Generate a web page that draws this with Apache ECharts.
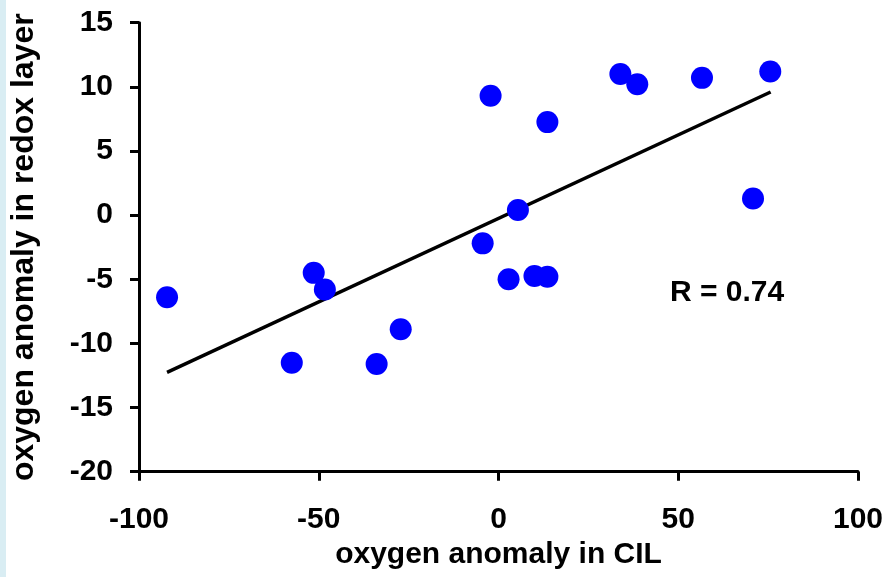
<!DOCTYPE html>
<html>
<head>
<meta charset="utf-8">
<script src="https://cdn.jsdelivr.net/npm/echarts@6/dist/echarts.min.js"></script>
<style>
html,body{margin:0;padding:0;background:#fff;}
#wrap{position:relative;width:887px;height:577px;}
#strip{position:absolute;left:0;top:0;width:6px;height:577px;background:#d9edf3;}
#chart{position:absolute;left:0;top:0;width:887px;height:577px;}
</style>
</head>
<body>
<div id="wrap"><div id="strip"></div><div id="chart"></div></div>
<script>
const xValues = [-92.2, -57.5, -51.4, -48.3, -33.9, -27.2, -4.4, -2.2, 2.8, 5.4, 10.0, 13.6, 13.6, 33.9, 38.6, 56.6, 75.6, 70.8];
const yValues = [-6.4, -11.5, -4.5, -5.8, -11.6, -8.9, -2.2, 9.3, -5.0, 0.4, -4.75, -4.8, 7.25, 11.0, 10.2, 10.7, 11.2, 1.3];
const trendX = [-92.2, 75.7];
const trendY = [-12.26, 9.6];
const xTicks = [-100, -50, 0, 50, 100];
const yTicks = [-20, -15, -10, -5, 0, 5, 10, 15];
const rLabel = 'R = 0.74';
const xTitle = 'oxygen anomaly in CIL';
const yTitle = 'oxygen anomaly in redox layer';

const points = xValues.map((x, i) => [x, yValues[i]]);
const trend = trendX.map((x, i) => [x, trendY[i]]);
const FONT = '"Liberation Sans", Arial, sans-serif';

const chart = echarts.init(document.getElementById('chart'), null, {renderer: 'canvas'});
chart.setOption({
  animation: false,
  backgroundColor: 'transparent',
  grid: {left: 138, right: 29, top: 22.7, bottom: 105.3, containLabel: false},
  xAxis: {
    type: 'value', min: xTicks[0], max: xTicks[xTicks.length - 1], interval: 50,
    name: xTitle, nameLocation: 'middle', nameGap: 68,
    nameTextStyle: {fontFamily: FONT, fontWeight: 'bold', fontSize: 30, color: '#000'},
    axisLine: {show: true, onZero: false, lineStyle: {color: '#000', width: 3}},
    axisTick: {show: true, inside: false, length: 9, lineStyle: {color: '#000', width: 3}},
    axisLabel: {fontFamily: FONT, fontWeight: 'bold', fontSize: 30, color: '#000', margin: 33},
    splitLine: {show: false}
  },
  yAxis: {
    type: 'value', min: yTicks[0], max: yTicks[yTicks.length - 1], interval: 5,
    name: yTitle, nameLocation: 'middle', nameGap: 99,
    nameTextStyle: {fontFamily: FONT, fontWeight: 'bold', fontSize: 32, color: '#000'},
    axisLine: {show: true, onZero: false, lineStyle: {color: '#000', width: 3}},
    axisTick: {show: true, inside: false, length: 9, lineStyle: {color: '#000', width: 3}},
    axisLabel: {fontFamily: FONT, fontWeight: 'bold', fontSize: 30, color: '#000', margin: 26},
    splitLine: {show: false}
  },
  series: [
    {
      type: 'line', data: trend, showSymbol: false, symbol: 'none',
      lineStyle: {color: '#000', width: 3.5}, z: 2, silent: true
    },
    {
      type: 'scatter', data: points, symbol: 'circle', symbolSize: 22,
      itemStyle: {color: '#0000ff', opacity: 1}, z: 3
    }
  ],
  graphic: [{
    type: 'text', left: 670, top: 278,
    style: {text: rLabel, font: 'bold 30px ' + FONT, fill: '#000'}
  }]
});
</script>
</body>
</html>
